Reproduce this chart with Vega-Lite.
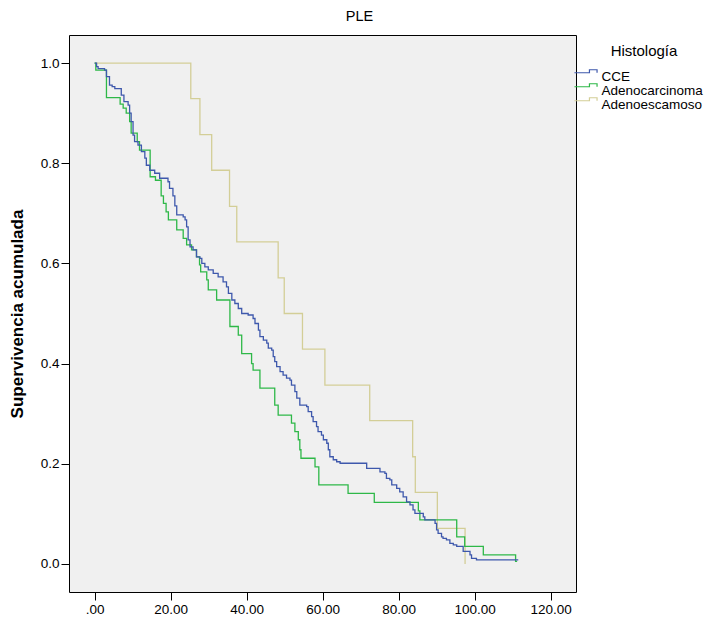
{
  "$schema": "https://vega.github.io/schema/vega-lite/v6.json",
  "width": 507,
  "height": 557,
  "autosize": {"type": "none"},
  "padding": {"left": 69, "top": 35, "right": 132, "bottom": 26},
  "title": {"text": "PLE", "fontSize": 14.5, "fontWeight": "normal", "font": "Liberation Sans", "color": "#000", "offset": 11, "dx": 37},
  "config": {
    "view": {"fill": "#F0F0F0", "stroke": "#000", "strokeWidth": 1},
    "axis": {"grid": false, "domain": false, "tickColor": "#000", "tickSize": 8, "labelFont": "Liberation Sans", "labelFontSize": 13.5, "labelColor": "#000", "titleFont": "Liberation Sans", "titleColor": "#000"}
  },
  "data": {"values": [
    {"h":"Adenoescamoso","t":0,"s":1},
    {"h":"Adenoescamoso","t":25.3,"s":0.929},
    {"h":"Adenoescamoso","t":27.7,"s":0.857},
    {"h":"Adenoescamoso","t":30.8,"s":0.786},
    {"h":"Adenoescamoso","t":35.5,"s":0.714},
    {"h":"Adenoescamoso","t":37.4,"s":0.643},
    {"h":"Adenoescamoso","t":48.3,"s":0.571},
    {"h":"Adenoescamoso","t":49.9,"s":0.5},
    {"h":"Adenoescamoso","t":54.7,"s":0.429},
    {"h":"Adenoescamoso","t":60.6,"s":0.357},
    {"h":"Adenoescamoso","t":72.4,"s":0.286},
    {"h":"Adenoescamoso","t":83.7,"s":0.214},
    {"h":"Adenoescamoso","t":84.4,"s":0.143},
    {"h":"Adenoescamoso","t":90.2,"s":0.071},
    {"h":"Adenoescamoso","t":97.5,"s":0.0},

    {"h":"Adenocarcinoma","t":0,"s":1},
    {"h":"Adenocarcinoma","t":0.3,"s":0.986},
    {"h":"Adenocarcinoma","t":3.1,"s":0.931},
    {"h":"Adenocarcinoma","t":6.7,"s":0.918},
    {"h":"Adenocarcinoma","t":7.5,"s":0.91},
    {"h":"Adenocarcinoma","t":8.3,"s":0.9},
    {"h":"Adenocarcinoma","t":9.2,"s":0.883},
    {"h":"Adenocarcinoma","t":9.6,"s":0.86},
    {"h":"Adenocarcinoma","t":11.2,"s":0.843},
    {"h":"Adenocarcinoma","t":11.8,"s":0.826},
    {"h":"Adenocarcinoma","t":14.6,"s":0.773},
    {"h":"Adenocarcinoma","t":16.0,"s":0.766},
    {"h":"Adenocarcinoma","t":17.5,"s":0.735},
    {"h":"Adenocarcinoma","t":18.1,"s":0.72},
    {"h":"Adenocarcinoma","t":18.8,"s":0.703},
    {"h":"Adenocarcinoma","t":19.4,"s":0.687},
    {"h":"Adenocarcinoma","t":21.6,"s":0.667},
    {"h":"Adenocarcinoma","t":23.3,"s":0.65},
    {"h":"Adenocarcinoma","t":24.2,"s":0.637},
    {"h":"Adenocarcinoma","t":25.5,"s":0.627},
    {"h":"Adenocarcinoma","t":26.8,"s":0.613},
    {"h":"Adenocarcinoma","t":27.6,"s":0.597},
    {"h":"Adenocarcinoma","t":27.9,"s":0.583},
    {"h":"Adenocarcinoma","t":29.5,"s":0.567},
    {"h":"Adenocarcinoma","t":29.9,"s":0.547},
    {"h":"Adenocarcinoma","t":32.1,"s":0.527},
    {"h":"Adenocarcinoma","t":35.6,"s":0.474},
    {"h":"Adenocarcinoma","t":37.8,"s":0.457},
    {"h":"Adenocarcinoma","t":38.7,"s":0.42},
    {"h":"Adenocarcinoma","t":41.3,"s":0.4},
    {"h":"Adenocarcinoma","t":41.7,"s":0.387},
    {"h":"Adenocarcinoma","t":43.5,"s":0.351},
    {"h":"Adenocarcinoma","t":47.4,"s":0.317},
    {"h":"Adenocarcinoma","t":48.3,"s":0.297},
    {"h":"Adenocarcinoma","t":51.8,"s":0.281},
    {"h":"Adenocarcinoma","t":52.7,"s":0.264},
    {"h":"Adenocarcinoma","t":53.6,"s":0.248},
    {"h":"Adenocarcinoma","t":54.0,"s":0.228},
    {"h":"Adenocarcinoma","t":54.3,"s":0.211},
    {"h":"Adenocarcinoma","t":58.0,"s":0.194},
    {"h":"Adenocarcinoma","t":59.0,"s":0.158},
    {"h":"Adenocarcinoma","t":66.7,"s":0.141},
    {"h":"Adenocarcinoma","t":73.6,"s":0.123},
    {"h":"Adenocarcinoma","t":85.2,"s":0.106},
    {"h":"Adenocarcinoma","t":85.6,"s":0.088},
    {"h":"Adenocarcinoma","t":95.3,"s":0.054},
    {"h":"Adenocarcinoma","t":97.4,"s":0.035},
    {"h":"Adenocarcinoma","t":102.3,"s":0.018},
    {"h":"Adenocarcinoma","t":110.8,"s":0.005},
    {"h":"Adenocarcinoma","t":111.2,"s":0.005},

    {"h":"CCE","t":0,"s":1},
    {"h":"CCE","t":0.5,"s":0.993},
    {"h":"CCE","t":0.9,"s":0.989},
    {"h":"CCE","t":2.6,"s":0.986},
    {"h":"CCE","t":3.1,"s":0.973},
    {"h":"CCE","t":3.9,"s":0.956},
    {"h":"CCE","t":4.6,"s":0.953},
    {"h":"CCE","t":5.3,"s":0.949},
    {"h":"CCE","t":7.0,"s":0.936},
    {"h":"CCE","t":7.7,"s":0.923},
    {"h":"CCE","t":8.8,"s":0.916},
    {"h":"CCE","t":9.2,"s":0.9},
    {"h":"CCE","t":9.6,"s":0.883},
    {"h":"CCE","t":10.1,"s":0.856},
    {"h":"CCE","t":10.5,"s":0.843},
    {"h":"CCE","t":11.4,"s":0.836},
    {"h":"CCE","t":12.3,"s":0.823},
    {"h":"CCE","t":13.2,"s":0.81},
    {"h":"CCE","t":13.6,"s":0.796},
    {"h":"CCE","t":14.5,"s":0.786},
    {"h":"CCE","t":15.8,"s":0.78},
    {"h":"CCE","t":17.1,"s":0.77},
    {"h":"CCE","t":19.3,"s":0.763},
    {"h":"CCE","t":19.7,"s":0.75},
    {"h":"CCE","t":20.6,"s":0.735},
    {"h":"CCE","t":21.1,"s":0.715},
    {"h":"CCE","t":21.6,"s":0.697},
    {"h":"CCE","t":23.3,"s":0.693},
    {"h":"CCE","t":23.8,"s":0.687},
    {"h":"CCE","t":24.2,"s":0.673},
    {"h":"CCE","t":24.6,"s":0.647},
    {"h":"CCE","t":25.1,"s":0.633},
    {"h":"CCE","t":25.9,"s":0.627},
    {"h":"CCE","t":26.8,"s":0.613},
    {"h":"CCE","t":27.7,"s":0.61},
    {"h":"CCE","t":28.2,"s":0.6},
    {"h":"CCE","t":29.0,"s":0.593},
    {"h":"CCE","t":29.9,"s":0.587},
    {"h":"CCE","t":31.2,"s":0.58},
    {"h":"CCE","t":32.5,"s":0.573},
    {"h":"CCE","t":33.8,"s":0.563},
    {"h":"CCE","t":34.7,"s":0.553},
    {"h":"CCE","t":35.2,"s":0.54},
    {"h":"CCE","t":36.1,"s":0.527},
    {"h":"CCE","t":36.9,"s":0.52},
    {"h":"CCE","t":37.8,"s":0.51},
    {"h":"CCE","t":38.7,"s":0.5},
    {"h":"CCE","t":40.4,"s":0.497},
    {"h":"CCE","t":41.7,"s":0.49},
    {"h":"CCE","t":42.2,"s":0.48},
    {"h":"CCE","t":43.1,"s":0.467},
    {"h":"CCE","t":43.5,"s":0.454},
    {"h":"CCE","t":44.4,"s":0.447},
    {"h":"CCE","t":45.3,"s":0.441},
    {"h":"CCE","t":45.7,"s":0.431},
    {"h":"CCE","t":46.6,"s":0.427},
    {"h":"CCE","t":47.0,"s":0.414},
    {"h":"CCE","t":47.4,"s":0.404},
    {"h":"CCE","t":47.9,"s":0.394},
    {"h":"CCE","t":48.8,"s":0.384},
    {"h":"CCE","t":49.6,"s":0.377},
    {"h":"CCE","t":50.5,"s":0.371},
    {"h":"CCE","t":51.4,"s":0.367},
    {"h":"CCE","t":51.8,"s":0.357},
    {"h":"CCE","t":52.7,"s":0.344},
    {"h":"CCE","t":53.2,"s":0.331},
    {"h":"CCE","t":54.0,"s":0.317},
    {"h":"CCE","t":55.8,"s":0.314},
    {"h":"CCE","t":56.2,"s":0.304},
    {"h":"CCE","t":57.1,"s":0.294},
    {"h":"CCE","t":57.5,"s":0.284},
    {"h":"CCE","t":58.4,"s":0.274},
    {"h":"CCE","t":58.8,"s":0.264},
    {"h":"CCE","t":59.7,"s":0.257},
    {"h":"CCE","t":60.2,"s":0.248},
    {"h":"CCE","t":61.1,"s":0.241},
    {"h":"CCE","t":61.5,"s":0.228},
    {"h":"CCE","t":61.9,"s":0.214},
    {"h":"CCE","t":62.8,"s":0.208},
    {"h":"CCE","t":63.7,"s":0.204},
    {"h":"CCE","t":64.6,"s":0.201},
    {"h":"CCE","t":71.6,"s":0.191},
    {"h":"CCE","t":75.1,"s":0.184},
    {"h":"CCE","t":76.4,"s":0.181},
    {"h":"CCE","t":76.8,"s":0.171},
    {"h":"CCE","t":77.7,"s":0.168},
    {"h":"CCE","t":78.2,"s":0.158},
    {"h":"CCE","t":79.5,"s":0.151},
    {"h":"CCE","t":80.3,"s":0.144},
    {"h":"CCE","t":81.2,"s":0.134},
    {"h":"CCE","t":82.1,"s":0.124},
    {"h":"CCE","t":83.0,"s":0.118},
    {"h":"CCE","t":83.8,"s":0.108},
    {"h":"CCE","t":84.3,"s":0.101},
    {"h":"CCE","t":86.5,"s":0.094},
    {"h":"CCE","t":86.9,"s":0.088},
    {"h":"CCE","t":89.6,"s":0.081},
    {"h":"CCE","t":90.0,"s":0.068},
    {"h":"CCE","t":90.4,"s":0.061},
    {"h":"CCE","t":91.3,"s":0.054},
    {"h":"CCE","t":91.7,"s":0.051},
    {"h":"CCE","t":92.6,"s":0.048},
    {"h":"CCE","t":93.5,"s":0.041},
    {"h":"CCE","t":94.4,"s":0.038},
    {"h":"CCE","t":95.3,"s":0.035},
    {"h":"CCE","t":97.0,"s":0.025},
    {"h":"CCE","t":98.8,"s":0.018},
    {"h":"CCE","t":99.2,"s":0.011},
    {"h":"CCE","t":100.5,"s":0.008},
    {"h":"CCE","t":111.5,"s":0.008}
  ]},
  "mark": {"type": "line", "interpolate": "step-after", "strokeWidth": 1.3},
  "encoding": {
    "x": {
      "field": "t", "type": "quantitative",
      "scale": {"domain": [-6.76, 126.7], "nice": false, "zero": false},
      "axis": {"title": null, "values": [0, 20, 40, 60, 80, 100, 120], "labelExpr": "datum.value === 0 ? '.00' : format(datum.value, '.2f')", "labelPadding": 2}
    },
    "y": {
      "field": "s", "type": "quantitative",
      "scale": {"domain": [-0.056, 1.056], "nice": false, "zero": false},
      "axis": {"title": "Supervivencia acumulada", "titleFontSize": 17, "titleFontWeight": "bold", "titlePadding": 14, "values": [0, 0.2, 0.4, 0.6, 0.8, 1.0], "format": ".1f", "labelPadding": 2}
    },
    "color": {
      "field": "h", "type": "nominal",
      "scale": {"domain": ["CCE", "Adenocarcinoma", "Adenoescamoso"], "range": ["#3E58AC", "#2EB848", "#D3CE97"]},
      "legend": {
        "title": "Histología",
        "orient": "none", "legendX": 517, "legendY": 9,
        "titleFont": "Liberation Sans", "titleFontSize": 15, "titleFontWeight": "normal", "titleColor": "#000",
        "titleAnchor": "middle", "titlePadding": 11,
        "labelFont": "Liberation Sans", "labelFontSize": 13.5, "labelColor": "#000", "labelOffset": 2,
        "symbolType": "M-3.66,-0.8L-0.66,-0.8L-0.66,-1.4L0.86,-1.4L0.86,-0.8",
        "symbolSize": 100, "symbolStrokeWidth": 1.2, "rowPadding": -3
      }
    }
  }
}
